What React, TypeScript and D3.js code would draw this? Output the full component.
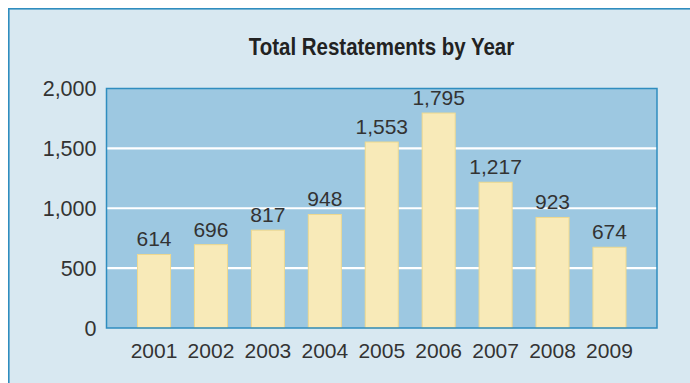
import React from "react";
import * as d3 from "d3";

const years = ["2001", "2002", "2003", "2004", "2005", "2006", "2007", "2008", "2009"];
const restatements = [614, 696, 817, 948, 1553, 1795, 1217, 923, 674];
const yTicks = [0, 500, 1000, 1500, 2000];
const title = "Total Restatements by Year";

const W = 690;
const H = 383;
const plot = { left: 106.5, right: 657, top: 88.5, bottom: 328 };

export default function App() {
  const x = d3
    .scaleBand<string>()
    .domain(years)
    .range([plot.left, plot.right])
    .paddingInner(0.42)
    .paddingOuter(0.545);
  const y = d3.scaleLinear().domain([0, 2000]).range([plot.bottom, plot.top]);
  const fmt = d3.format(",");
  const font = "'Liberation Sans', Arial, sans-serif";

  return (
    <svg
      width={W}
      height={H}
      style={{ position: "absolute", left: 0, top: 0, display: "block" }}
    >
      <rect x={0} y={0} width={W} height={H} fill="#ffffff" />
      <rect x={8.8} y={8.8} width={W + 10} height={H + 10} fill="#D8E8F1" stroke="#2F8DBF" strokeWidth={1.6} />
      <text
        x={248.7}
        y={55}
        textLength={265.5}
        lengthAdjust="spacingAndGlyphs"
        fontFamily={font}
        fontWeight="bold"
        fontSize={24.5}
        fill="#222"
      >
        {title}
      </text>
      <rect
        x={plot.left}
        y={plot.top}
        width={plot.right - plot.left}
        height={plot.bottom - plot.top}
        fill="#9DC8E1"
      />
      {yTicks
        .filter((t) => t > 0 && t < 2000)
        .map((t) => (
          <line
            key={"g" + t}
            x1={plot.left}
            x2={plot.right}
            y1={y(t)}
            y2={y(t)}
            stroke="#ffffff"
            strokeWidth={2.2}
          />
        ))}
      {years.map((yr, i) => (
        <rect
          key={yr}
          x={x(yr)!}
          y={y(restatements[i])}
          width={x.bandwidth()}
          height={plot.bottom - y(restatements[i])}
          fill="#F8EAB8"
          stroke="#EFD98E"
          strokeWidth={1}
        />
      ))}
      <rect
        x={plot.left}
        y={plot.top}
        width={plot.right - plot.left}
        height={plot.bottom - plot.top}
        fill="none"
        stroke="#2F8DBF"
        strokeWidth={1.5}
      />
      {years.map((yr, i) => (
        <text
          key={"v" + yr}
          x={x(yr)! + x.bandwidth() / 2}
          y={y(restatements[i]) - 8}
          textAnchor="middle"
          fontFamily={font}
          fontSize={21}
          fill="#333333"
        >
          {fmt(restatements[i])}
        </text>
      ))}
      {yTicks.map((t) => (
        <text
          key={"t" + t}
          x={96.5}
          y={y(t)}
          dy="0.36em"
          textAnchor="end"
          fontFamily={font}
          fontSize={21.5}
          fill="#333333"
        >
          {fmt(t)}
        </text>
      ))}
      {years.map((yr) => (
        <text
          key={"x" + yr}
          x={x(yr)! + x.bandwidth() / 2}
          y={357.5}
          textAnchor="middle"
          fontFamily={font}
          fontSize={21}
          fill="#333333"
        >
          {yr}
        </text>
      ))}
    </svg>
  );
}
